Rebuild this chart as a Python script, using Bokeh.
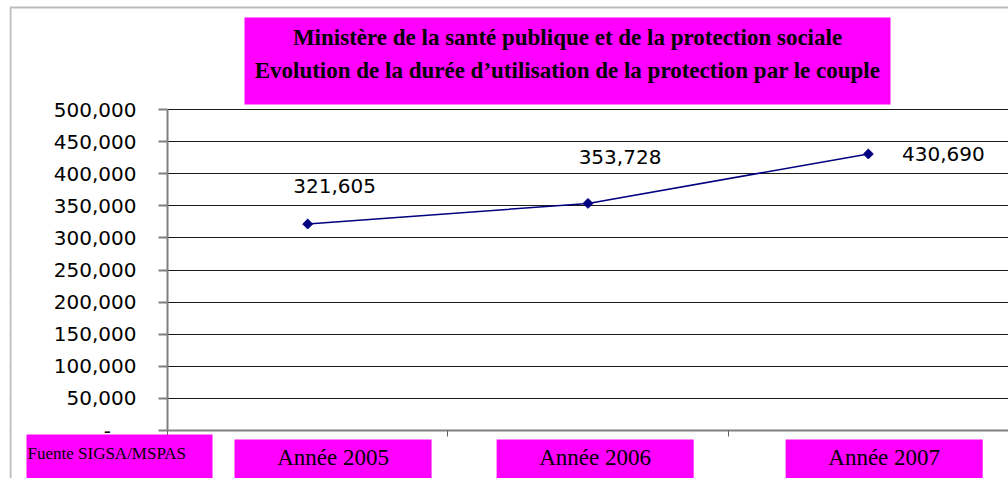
import math
from bokeh.plotting import figure
from bokeh.models import (ColumnDataSource, Range1d, FixedTicker, BoxAnnotation, Label, LinearAxis)
from bokeh.core.properties import value
from bokeh.embed import file_html
from bokeh.resources import INLINE

# ---- data ----
years = ["Année 2005", "Année 2006", "Année 2007"]
values = [321605, 353728, 430690]
value_labels = ["321,605", "353,728", "430,690"]
y_ticks = [0, 50000, 100000, 150000, 200000, 250000, 300000, 350000, 400000, 450000, 500000]
y_tick_labels = ["-\u00a0\u00a0\u00a0\u00a0", "50,000", "100,000", "150,000", "200,000", "250,000",
                 "300,000", "350,000", "400,000", "450,000", "500,000"]
title_lines = ["Ministère de la santé publique et de la protection sociale",
               "Evolution de la durée d\u2019utilisation de la protection par le couple"]
source_note = "Fuente SIGSA/MSPAS"

# ---- styles / layout ----
MAGENTA = "#FF00FF"
NAVY = "#000080"
W, H = 1008, 478
PAD_L = 9                                       # white margin left of the outer border
FRAME_L, FRAME_T, FRAME_B = 167, 109, 430       # plot-area edges in canvas pixels
Y_MAX = 500000
label_dx = [27, 32, 75]
label_dy = [-38, -46, 0]
box_offsets = [0.239, 0.174, 0.205]
box_width = 0.703


def sx(cx):
    """canvas x pixel -> screen units relative to the frame"""
    return cx - PAD_L


def sy(cy):
    """canvas y pixel (from top) -> screen units (from bottom)"""
    return H - cy


n = len(years)
x_per_px = n / (W - FRAME_L)
y_per_px = Y_MAX / (FRAME_B - FRAME_T)
x_range = Range1d(-(FRAME_L - PAD_L) * x_per_px, n)
y_range = Range1d(-(H - FRAME_B) * y_per_px, Y_MAX + FRAME_T * y_per_px)

xs = [i + 0.5 for i in range(n)]
src = ColumnDataSource(dict(x=xs, y=values, lab=value_labels, dx=label_dx, dy=label_dy))

p = figure(width=W, height=H, output_backend="svg", toolbar_location=None,
           x_range=x_range, y_range=y_range,
           x_axis_location=None, y_axis_location=None,
           min_border_left=PAD_L, min_border_right=0, min_border_top=0, min_border_bottom=0)
p.background_fill_color = "white"
p.border_fill_color = "white"
p.outline_line_color = None

# grid (only y) + white cover left of the plot area
p.xgrid.grid_line_color = None
p.ygrid.ticker = FixedTicker(ticks=y_ticks)
p.ygrid.grid_line_color = "#1a1a1a"
p.ygrid.grid_line_width = 1
p.add_layout(BoxAnnotation(left=x_range.start - 1, right=0, bottom=y_range.start - Y_MAX,
                           top=y_range.end + Y_MAX,
                           fill_color="white", fill_alpha=1, line_color=None, level="underlay"))

# y axis at x = 0
ya = LinearAxis(fixed_location=0, bounds=(0, Y_MAX))
ya.ticker = FixedTicker(ticks=y_ticks)
ya.major_label_overrides = {t: l for t, l in zip(y_ticks, y_tick_labels)}
ya.major_label_text_font = "DejaVu Sans"
ya.major_label_text_font_size = "20px"
ya.major_label_text_color = "black"
ya.major_label_standoff = 22
ya.major_tick_out = 9
ya.major_tick_in = 0
ya.minor_tick_line_color = None
ya.axis_line_color = "#808080"
ya.axis_line_width = 2
ya.major_tick_line_color = "#808080"
ya.major_tick_line_width = 2
p.add_layout(ya, "left")

# x axis at y = 0: tick marks at category boundaries
xa = LinearAxis(fixed_location=0, bounds=(0, n))
xa.ticker = FixedTicker(ticks=[], minor_ticks=list(range(n + 1)))
xa.major_tick_line_color = None
xa.minor_tick_out = 6
xa.minor_tick_in = 0
xa.minor_tick_line_color = "#606060"
xa.minor_tick_line_width = 1
xa.axis_line_color = "#808080"
xa.axis_line_width = 2
p.add_layout(xa, "below")

# data
p.line("x", "y", source=src, line_color=NAVY, line_width=1.5)
p.scatter("x", "y", source=src, marker="square", angle=math.pi / 4, size=7,
          fill_color=NAVY, line_color=NAVY)
p.text("x", "y", text="lab", source=src, x_offset="dx", y_offset="dy",
       text_font=value("DejaVu Sans"), text_font_size="20px", text_color="black",
       text_align="center", text_baseline="middle")

# category label boxes
for i, (yr, off) in enumerate(zip(years, box_offsets)):
    p.add_layout(BoxAnnotation(left=i + off, right=i + off + box_width, top=sy(439), bottom=-20,
                               top_units="screen", bottom_units="screen",
                               fill_color=MAGENTA, fill_alpha=1, line_color=None))
    p.add_layout(Label(x=i + off + box_width / 2, y=sy(457), y_units="screen", text=yr,
                       text_font="Liberation Serif", text_font_size="23px", text_color="black",
                       text_align="center", text_baseline="middle"))

# title box
p.add_layout(BoxAnnotation(left=sx(244), right=sx(890), top=sy(17), bottom=sy(104),
                           left_units="screen", right_units="screen",
                           top_units="screen", bottom_units="screen",
                           fill_color=MAGENTA, fill_alpha=1, line_color=None))
for line, cy in zip(title_lines, [37, 70]):
    p.add_layout(Label(x=sx(567), y=sy(cy), x_units="screen", y_units="screen", text=line,
                       text_font="Liberation Serif", text_font_style="bold",
                       text_font_size="23px", text_color="black",
                       text_align="center", text_baseline="middle"))

# source box
p.add_layout(BoxAnnotation(left=sx(26), right=sx(212), top=sy(434), bottom=-20,
                           left_units="screen", right_units="screen",
                           top_units="screen", bottom_units="screen",
                           fill_color=MAGENTA, fill_alpha=1, line_color=None))
p.add_layout(Label(x=sx(27), y=sy(453), x_units="screen", y_units="screen", text=source_note,
                   text_font="Liberation Serif", text_font_size="17px", text_color="black",
                   text_align="left", text_baseline="middle"))

# outer border (left and top edges visible)
p.add_layout(BoxAnnotation(left=sx(10), right=W + 50, top=sy(7), bottom=-50,
                           left_units="screen", right_units="screen",
                           top_units="screen", bottom_units="screen",
                           fill_color=None, line_color="#222222", line_width=2))

open("out.html", "w").write(file_html(p, INLINE))
